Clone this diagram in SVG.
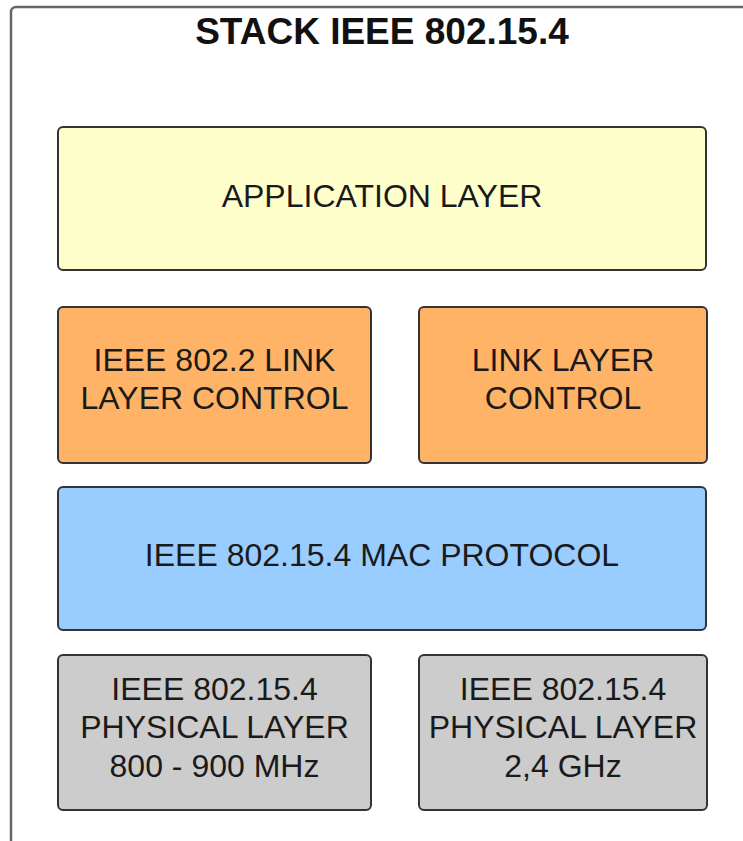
<svg xmlns="http://www.w3.org/2000/svg" width="743" height="841" viewBox="0 0 743 841">
<style>
.box{stroke:#333;stroke-width:2}
.t{font-family:"Liberation Sans",Arial,sans-serif;font-size:32px;fill:#1a1a1a;text-anchor:middle}
.title{font-family:"Liberation Sans",Arial,sans-serif;font-size:37px;font-weight:bold;fill:#111;text-anchor:middle}
</style>
<rect width="743" height="841" fill="#fff"/>
<g id="frame">
<rect x="11" y="7" width="760" height="870" rx="5" fill="#fff" stroke="#666" stroke-width="2.5"/>
<text class="title" x="382" y="44">STACK IEEE 802.15.4</text>
</g>
<g id="application">
<rect class="box" x="58" y="127" width="648" height="143" rx="5" fill="#FFFFCC"/>
<text class="t" x="382" y="207">APPLICATION LAYER</text>
</g>
<g id="llc8022">
<rect class="box" x="58" y="307" width="313" height="156" rx="5" fill="#FFB366"/>
<text class="t" x="214.5" y="371">IEEE 802.2 LINK</text>
<text class="t" x="214.5" y="409">LAYER CONTROL</text>
</g>
<g id="llc">
<rect class="box" x="419" y="307" width="288" height="156" rx="5" fill="#FFB366"/>
<text class="t" x="563" y="371">LINK LAYER</text>
<text class="t" x="563" y="409">CONTROL</text>
</g>
<g id="mac">
<rect class="box" x="58" y="487" width="648" height="143" rx="5" fill="#99CCFF"/>
<text class="t" x="382" y="566">IEEE 802.15.4 MAC PROTOCOL</text>
</g>
<g id="phy900">
<rect class="box" x="58" y="655" width="313" height="155" rx="5" fill="#CCCCCC"/>
<text class="t" x="214.5" y="700">IEEE 802.15.4</text>
<text class="t" x="214.5" y="738">PHYSICAL LAYER</text>
<text class="t" x="214.5" y="777">800 - 900 MHz</text>
</g>
<g id="phy24">
<rect class="box" x="419" y="655" width="288" height="155" rx="5" fill="#CCCCCC"/>
<text class="t" x="563" y="700">IEEE 802.15.4</text>
<text class="t" x="563" y="738">PHYSICAL LAYER</text>
<text class="t" x="563" y="777">2,4 GHz</text>
</g>
<g id="connectors"/>
</svg>
